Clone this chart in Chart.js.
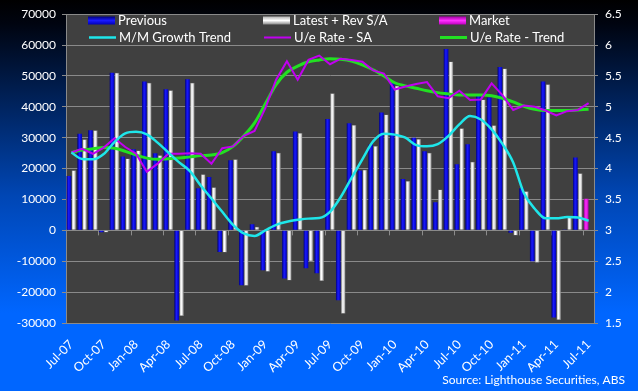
<!DOCTYPE html>
<html>
<head>
<meta charset="utf-8">
<script src="https://cdn.jsdelivr.net/npm/chart.js@4.4.1/dist/chart.umd.min.js"></script>
<style>
  html, body { margin: 0; padding: 0; background: #000; }
  #wrap { width: 638px; height: 391px; position: relative; }
</style>
</head>
<body>
<div id="wrap"><canvas id="c" width="638" height="391"></canvas></div>
<script>
const MONTHS = ['Jul-07','Aug-07','Sep-07','Oct-07','Nov-07','Dec-07','Jan-08','Feb-08','Mar-08','Apr-08','May-08','Jun-08',
  'Jul-08','Aug-08','Sep-08','Oct-08','Nov-08','Dec-08','Jan-09','Feb-09','Mar-09','Apr-09','May-09','Jun-09',
  'Jul-09','Aug-09','Sep-09','Oct-09','Nov-09','Dec-09','Jan-10','Feb-10','Mar-10','Apr-10','May-10','Jun-10',
  'Jul-10','Aug-10','Sep-10','Oct-10','Nov-10','Dec-10','Jan-11','Feb-11','Mar-11','Apr-11','May-11','Jun-11','Jul-11'];

const PREVIOUS = [17600,31300,32400,-600,51000,23900,26300,48200,25000,45700,-29200,48900,
  13600,17300,-7000,22700,-17800,2000,-12900,25600,-15600,32000,-12300,-13900,
  36100,-22600,34700,19400,27800,38200,47800,16600,30000,25600,9100,58700,
  21400,27900,43500,43000,52900,-800,13600,-10000,48200,-28200,300,23600,null];

const LATEST = [19500,29500,32400,-700,51000,23300,25900,47800,24300,45400,-27700,47800,
  18200,14000,-7200,23000,-17900,1200,-13400,25100,-16200,31500,-10000,-16400,
  44400,-27000,34100,19600,27300,37500,46800,16000,29600,25100,13200,54700,
  33100,22200,42400,34000,52400,-1700,12700,-10500,47300,-29000,4300,18500,null];

const MARKET = [null,null,null,null,null,null,null,null,null,null,null,null,
  null,null,null,null,null,null,null,null,null,null,null,null,
  null,null,null,null,null,null,null,null,null,null,null,null,
  null,null,null,null,null,null,null,null,null,null,null,null,10200];

const MM_TREND = [25200,23100,23000,24700,28600,31400,31900,31100,28400,25200,22000,19200,
  14500,10300,6000,1800,-1000,-1800,0,1800,2800,3400,3800,4000,
  6000,10800,17000,23000,28800,31300,31000,30000,27600,27200,27900,30600,
  34300,37000,35900,32700,28000,22000,12000,7000,3900,3900,4300,4200,3100];

const UE_SA = [4.26,4.32,4.24,4.34,4.49,4.35,4.24,3.95,4.08,4.24,4.24,4.25,
  4.24,4.08,4.33,4.36,4.53,4.61,4.98,5.44,5.74,5.44,5.76,5.83,
  5.69,5.78,5.76,5.73,5.59,5.54,5.28,5.33,5.37,5.40,5.17,5.14,
  5.26,5.11,5.12,5.38,5.19,4.95,5.02,5.00,4.94,4.86,4.93,4.95,5.06];

const UE_TREND = [4.26,4.30,4.32,4.34,4.33,4.28,4.22,4.17,4.15,4.16,4.17,4.19,
  4.21,4.22,4.26,4.36,4.53,4.74,5.05,5.36,5.56,5.66,5.73,5.76,
  5.78,5.77,5.74,5.68,5.60,5.50,5.39,5.34,5.30,5.26,5.23,5.21,
  5.19,5.19,5.19,5.18,5.14,5.08,5.01,4.96,4.94,4.94,4.94,4.95,4.96];

const CAT_PCT = 0.92, BAR_PCT = 0.94;
const FONT = 'Lato, "Open Sans", sans-serif';

function barGrad(ctx, slot, stops) {
  const chart = ctx.chart;
  const xs = chart.scales && chart.scales.x;
  if (ctx.type !== 'data' || !xs || !chart.chartArea) return stops[1];
  const cw = xs.width / MONTHS.length;
  const cx = xs.getPixelForValue(ctx.dataIndex);
  const slotW = cw * CAT_PCT / 2;
  const bw = slotW * BAR_PCT;
  const center = cx + (slot === 0 ? -slotW / 2 : slotW / 2);
  const g = chart.ctx.createLinearGradient(center - bw / 2, 0, center + bw / 2, 0);
  g.addColorStop(0, stops[0]);
  g.addColorStop(0.45, stops[1]);
  g.addColorStop(1, stops[2]);
  return g;
}

const BLUE = ['#00007a', '#1a1aff', '#0000b8'];
const WHITE = ['#b0b0b0', '#ffffff', '#8a8a8a'];
const MAG = ['#a000a0', '#ff30ff', '#c000c0'];

const bgPlugin = {
  id: 'bg',
  beforeDraw(chart) {
    const { ctx, width, height, chartArea } = chart;
    ctx.save();
    const g = ctx.createLinearGradient(0, 0, 0, height);
    g.addColorStop(0, '#000000');
    g.addColorStop(0.06, '#000410');
    g.addColorStop(0.5, '#0046b4');
    g.addColorStop(0.8, '#0066ff');
    g.addColorStop(1, '#0066ff');
    ctx.fillStyle = g;
    ctx.fillRect(0, 0, width, height);
    ctx.fillStyle = '#404040';
    ctx.fillRect(chartArea.left, chartArea.top, chartArea.right - chartArea.left, chartArea.bottom - chartArea.top);
    ctx.restore();
  },
  beforeDatasetsDraw(chart) {
    const { ctx } = chart;
    const xs = chart.scales.x, ys = chart.scales.y;
    const y0 = ys.getPixelForValue(0);
    const cw = xs.width / MONTHS.length;
    ctx.save();
    ctx.strokeStyle = '#8c8c8c';
    ctx.lineWidth = 1;
    ctx.beginPath();
    for (let k = 3; k <= MONTHS.length; k += 3) {
      const x = Math.round(xs.left + k * cw) + 0.5;
      ctx.moveTo(x, y0);
      ctx.lineTo(x, y0 + 5);
    }
    ctx.stroke();
    ctx.restore();
  },
  afterDraw(chart) {
    const { ctx } = chart;
    ctx.save();
    ctx.font = '13px ' + FONT;
    ctx.fillStyle = '#ffffff';
    ctx.textBaseline = 'middle';
    const r1 = 20.5, r2 = 37.5;
    const cols = [88, 263, 439];
    const swW = 27;
    // row 1 bar swatches
    const barSw = [[BLUE, 'Previous'], [WHITE, 'Latest + Rev S/A'], [MAG, 'Market']];
    barSw.forEach((b, i) => {
      const x = cols[i];
      const g = ctx.createLinearGradient(0, r1 - 4, 0, r1 + 4);
      g.addColorStop(0, b[0][0]); g.addColorStop(0.5, b[0][1]); g.addColorStop(1, b[0][2]);
      ctx.fillStyle = g;
      ctx.fillRect(x, r1 - 4, swW, 8);
      ctx.fillStyle = '#ffffff';
      ctx.fillText(b[1], x + swW + 3, r1);
    });
    const lineSw = [['#1ee6ea', 'M/M Growth Trend', 2.5], ['#c000f0', 'U/e Rate - SA', 2], ['#22e022', 'U/e Rate - Trend', 3]];
    lineSw.forEach((l, i) => {
      const x = cols[i];
      ctx.strokeStyle = l[0];
      ctx.lineWidth = l[2];
      ctx.beginPath();
      ctx.moveTo(x + 1, r2);
      ctx.lineTo(x + swW + 1, r2);
      ctx.stroke();
      ctx.fillText(l[1], x + swW + 4, r2);
    });
    ctx.font = '12px ' + FONT;
    ctx.textAlign = 'right';
    ctx.fillText('Source: Lighthouse Securities, ABS', 625, 380);
    ctx.restore();
  }
};

new Chart(document.getElementById('c'), {
  data: {
    labels: MONTHS,
    datasets: [
      { type: 'line', label: 'M/M Growth Trend', data: MM_TREND, yAxisID: 'y', stack: 'trendline',
        borderColor: '#1ee6ea', borderWidth: 2.5, pointRadius: 0, cubicInterpolationMode: 'monotone', order: 0 },
      { type: 'line', label: 'U/e Rate - SA', data: UE_SA, yAxisID: 'y1',
        borderColor: '#c000f0', borderWidth: 2, pointRadius: 0, tension: 0, order: 0 },
      { type: 'line', label: 'U/e Rate - Trend', data: UE_TREND, yAxisID: 'y1',
        borderColor: '#22e022', borderWidth: 3, pointRadius: 0, cubicInterpolationMode: 'monotone', order: 0 },
      { type: 'bar', label: 'Previous', data: PREVIOUS, yAxisID: 'y', stack: 'a', order: 1,
        backgroundColor: (c) => barGrad(c, 0, BLUE), borderWidth: 0,
        categoryPercentage: CAT_PCT, barPercentage: BAR_PCT },
      { type: 'bar', label: 'Latest + Rev S/A', data: LATEST, yAxisID: 'y', stack: 'b', order: 1,
        backgroundColor: (c) => barGrad(c, 1, WHITE), borderColor: '#7a7a7a', borderWidth: 0.5,
        categoryPercentage: CAT_PCT, barPercentage: BAR_PCT },
      { type: 'bar', label: 'Market', data: MARKET, yAxisID: 'y', stack: 'a', order: 1,
        backgroundColor: (c) => barGrad(c, 0, MAG), borderWidth: 0,
        categoryPercentage: CAT_PCT, barPercentage: BAR_PCT }
    ]
  },
  options: {
    responsive: false,
    animation: false,
    devicePixelRatio: 1,
    layout: { padding: { top: 10, left: 0, right: 0, bottom: 0 } },
    plugins: { legend: { display: false }, tooltip: { enabled: false } },
    scales: {
      x: {
        stacked: true,
        offset: true,
        grid: { display: false },
        border: { display: false },
        ticks: {
          autoSkip: false, maxRotation: 45, minRotation: 45, color: '#ffffff', padding: 6,
          font: { family: FONT, size: 12.5 },
          callback: (v, i) => (i % 3 === 0 ? MONTHS[i] : '')
        },
        afterFit: (s) => { s.height = 68; }
      },
      y: {
        position: 'left', min: -30000, max: 70000,
        grid: { color: '#8a8a8a', lineWidth: 1, drawTicks: true, tickLength: 4, tickColor: '#8a8a8a' },
        border: { color: '#8a8a8a', width: 1 },
        ticks: { stepSize: 10000, color: '#ffffff', padding: 6, font: { family: FONT, size: 12 },
          callback: (v) => String(v) },
        afterFit: (s) => { s.width = 66; }
      },
      y1: {
        position: 'right', min: 1.5, max: 6.5,
        grid: { drawOnChartArea: false, drawTicks: true, tickLength: 4, color: '#8a8a8a' },
        border: { color: '#8a8a8a', width: 1 },
        ticks: { stepSize: 0.5, color: '#ffffff', padding: 7, font: { family: FONT, size: 12 },
          callback: (v) => String(v) },
        afterFit: (s) => { s.width = 44; }
      }
    }
  },
  plugins: [bgPlugin]
});
</script>
</body>
</html>
